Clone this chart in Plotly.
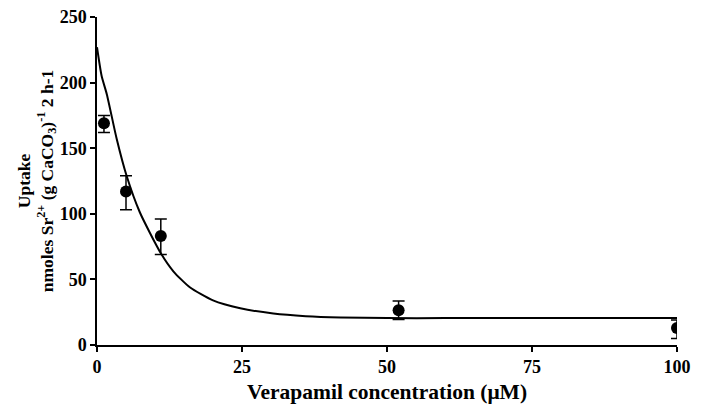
import plotly.graph_objects as go

# Measured points
conc = [1.2, 5, 11, 52, 100]
uptake = [169, 117, 83, 26.5, 13]
err_plus = [6, 12, 13, 7, 6]
err_minus = [7, 14, 14, 7, 8]

# Fitted curve
curve_x = [0, 0.8, 1.7, 3.4, 5.1, 7.4, 11, 13.2, 16, 20, 24.7, 30.4, 36, 42, 50, 60, 75, 90, 100]
curve_y = [227, 205, 191, 157, 129, 101, 70, 56, 44, 34, 28, 24, 22, 21, 20.5, 20.5, 20.5, 20.5, 20.5]

FONT = "Liberation Serif"

fig = go.Figure()
fig.add_trace(go.Scatter(x=curve_x, y=curve_y, mode="lines",
                         line=dict(color="black", width=2, shape="spline", smoothing=0.6),
                         showlegend=False, hoverinfo="skip"))
fig.add_trace(go.Scatter(x=conc, y=uptake, mode="markers",
                         marker=dict(color="black", size=12, symbol="circle"),
                         error_y=dict(type="data", symmetric=False, array=err_plus,
                                      arrayminus=err_minus, color="black", thickness=1.5, width=6),
                         showlegend=False))

fig.update_layout(
    width=707, height=408,
    margin=dict(l=97, r=30, t=17, b=63),
    paper_bgcolor="white", plot_bgcolor="white",
    font=dict(family=FONT, color="black", size=15),
    xaxis=dict(range=[0, 100], tickvals=[0, 25, 50, 75, 100], showgrid=False, zeroline=False,
               showline=True, linecolor="black", linewidth=1.5, ticks="outside", ticklen=5,
               tickcolor="black", tickwidth=1.5, automargin=False,
               tickfont=dict(family=FONT, size=18, color="black", weight="bold"),
               title=dict(text="<b>Verapamil concentration (μM)</b>", standoff=8,
                          font=dict(family=FONT, size=21.5, color="black"))),
    yaxis=dict(range=[0, 250], tickvals=[0, 50, 100, 150, 200, 250], showgrid=False, zeroline=False,
               showline=True, linecolor="black", linewidth=1.5, ticks="outside", ticklen=5,
               tickcolor="black", tickwidth=1.5, automargin=False,
               tickfont=dict(family=FONT, size=18, color="black", weight="bold"),
               title=dict(text="<b>Uptake<br>nmoles Sr<sup>2+</sup> (g CaCO<sub>3</sub>)<sup>-1</sup> 2 h-1</b>",
                          standoff=2, font=dict(family=FONT, size=17.5, color="black"))),
)

fig.write_html("out.html")
